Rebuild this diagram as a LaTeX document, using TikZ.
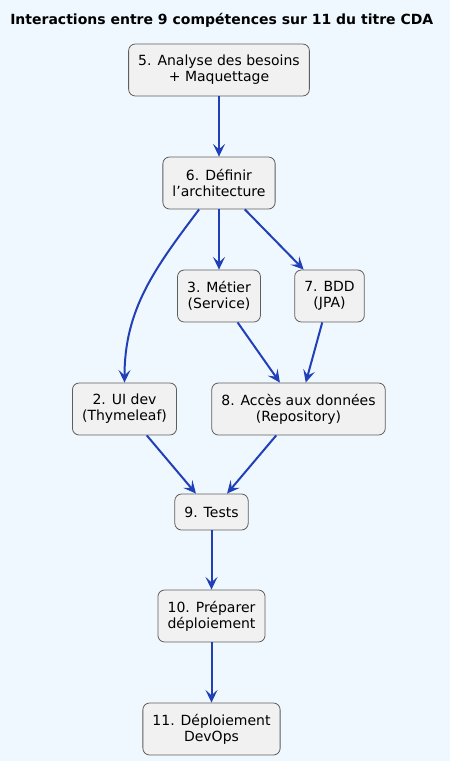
\documentclass[tikz,border=0pt]{standalone}
\usepackage{fontspec}
\setmainfont{DejaVu Sans}
\usepackage{xcolor}
\definecolor{PageBlue}{RGB}{240,248,255}
\definecolor{FillGray}{RGB}{241,241,241}
\definecolor{BorderGray}{RGB}{94,94,94}
\definecolor{ArrowBlue}{RGB}{33,64,183}
\usetikzlibrary{arrows.meta, positioning}
\tikzset{
  % Competence box
  cbox/.style={
    rectangle, rounded corners=5pt,
    draw=BorderGray, line width=0.6pt,
    fill=FillGray,
    align=center,
    minimum height=39pt,
    font=\fontsize{10.5pt}{12pt}\selectfont,
    inner xsep=7.2pt, inner ysep=2pt
  },
  cbox small/.style={cbox, minimum height=27pt},
  % Arrows
  arr/.style={-{Stealth[length=9.5pt,width=9pt,inset=4pt]}, line width=1.5pt, ArrowBlue},
}

\begin{document}
\begin{tikzpicture}[x=0.75pt, y=-0.75pt]

  \fill[PageBlue] (0,0) rectangle (450,761);
  \useasboundingbox (0,0) rectangle (450,761);

  %% Title
  \node[anchor=west, inner sep=0pt, font=\fontsize{10.5pt}{12pt}\selectfont\bfseries]
    (title) at (10,20) {Interactions entre 9 compétences sur 11 du titre CDA};

  %% Competences
  \node[cbox] (c5) at (219,70) {5. Analyse des besoins\\+ Maquettage};
  \node[cbox] (c6) at (219,183) {6. Définir\\l’architecture};
  \node[cbox] (c3) at (219,296) {3. Métier\\(Service)};
  \node[cbox] (c7) at (329.5,296) {7. BDD\\(JPA)};
  \node[cbox] (c2) at (124.5,409) {2. UI dev\\(Thymeleaf)};
  \node[cbox] (c8) at (298.5,409) {8. Accès aux données\\(Repository)};
  \node[cbox small] (c9) at (211.5,512) {9. Tests};
  \node[cbox] (c10) at (211.5,616) {10. Préparer\\déploiement};
  \node[cbox] (c11) at (211.5,729) {11. Déploiement\\DevOps};

  %% Arrows
  \draw[arr] (c5) -- (c6);
  \draw[arr] (c6) to[out=-127, in=90] (c2);
  \draw[arr] (c6) -- (c3);
  \draw[arr] (c6) -- (c7);
  \draw[arr] (c3) -- (c8);
  \draw[arr] (c7) -- (c8);
  \draw[arr] (c2) -- (c9);
  \draw[arr] (c8) -- (c9);
  \draw[arr] (c9) -- (c10);
  \draw[arr] (c10) -- (c11);

\end{tikzpicture}
\end{document}
